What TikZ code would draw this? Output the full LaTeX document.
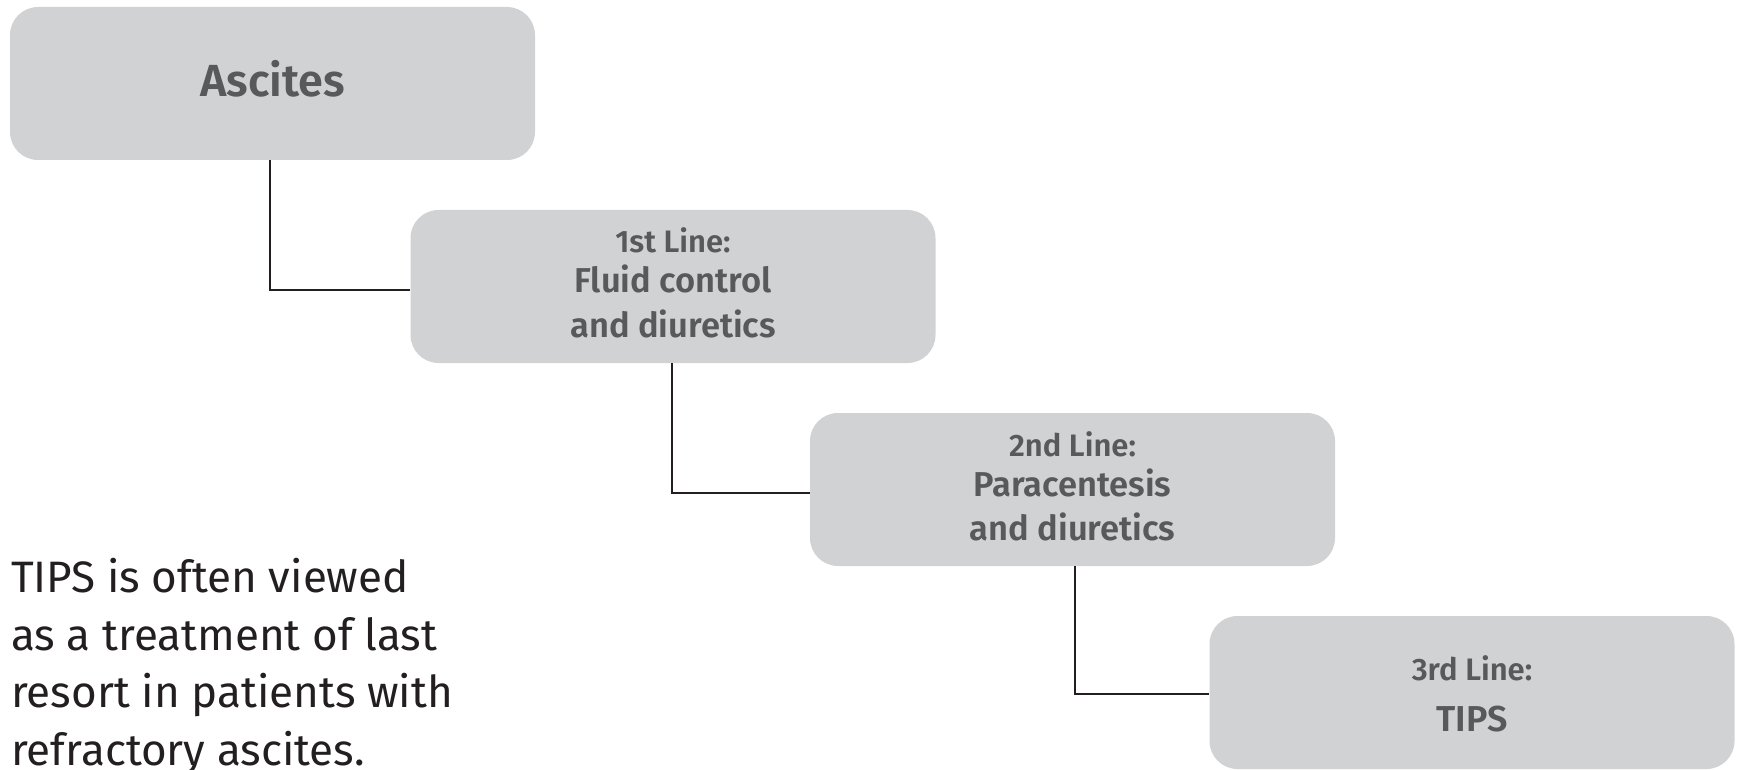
\documentclass[tikz,border=0pt]{standalone}
\usepackage{fontspec}
\IfFontExistsTF{Fira Sans SemiBold}{\setmainfont{Fira Sans}[BoldFont={Fira Sans SemiBold}]}{\setmainfont{Fira Sans}}
\usetikzlibrary{calc}
\definecolor{boxfill}{HTML}{D1D2D4}
\definecolor{boxtext}{HTML}{58595B}
\definecolor{ink}{HTML}{231F20}
\tikzset{
  stepbox/.style={rectangle, rounded corners=28pt, fill=boxfill, minimum width=525pt, minimum height=153pt, inner sep=0pt},
  boxlabel/.style={anchor=base, inner sep=0pt, text=boxtext, font=\bfseries},
  small/.style={boxlabel, font=\bfseries\fontsize{31}{36}\selectfont},
  big/.style={boxlabel, font=\bfseries\fontsize{34.5}{40}\selectfont},
  link/.style={draw=ink, line width=2pt},
}
\begin{document}
\begin{tikzpicture}[x=1pt,y=-1pt]
\useasboundingbox (0,0) rectangle (1741,770);
\node[stepbox] (asc) at (272.5,83.5) {};
\node[stepbox] (l1) at (673,286.5) {};
\node[stepbox] (l2) at (1072.5,489.5) {};
\node[stepbox] (l3) at (1472,692.5) {};
\node[boxlabel, font=\bfseries\fontsize{45}{52}\selectfont] (asct) at (272.5,97) {Ascites};
\node[small] (l1a) at (673,253) {1st Line:};
\node[big] (l1b) at (673,293) {Fluid control};
\node[big] (l1c) at (673,337) {and diuretics};
\node[small] (l2a) at (1072.5,456) {2nd Line:};
\node[big] (l2b) at (1072.5,496) {Paracentesis};
\node[big] (l2c) at (1072.5,540) {and diuretics};
\node[small] (l3a) at (1472,680) {3rd Line:};
\node[big, font=\bfseries\fontsize{36}{42}\selectfont] (l3b) at (1472,731) {TIPS};
\draw[link] ([xshift=-2.5pt]asc.south) |- ([yshift=-3.5pt]l1.west);
\draw[link] ([xshift=-1pt]l1.south) |- ([yshift=-3.5pt]l2.west);
\draw[link] ([xshift=2.5pt]l2.south) |- ([yshift=-1.5pt]l3.west);
\node[anchor=north west, align=left, inner sep=0pt, text=ink, font=\fontsize{44}{57.5}\selectfont] (note) at (11,558) {TIPS is often viewed\\as a treatment of last\\resort in patients with\\refractory ascites.};
\end{tikzpicture}
\end{document}
